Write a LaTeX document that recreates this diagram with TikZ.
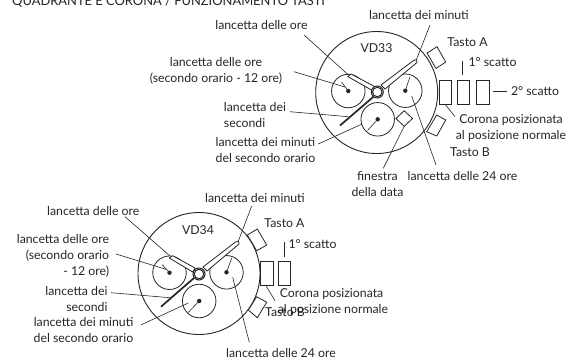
\documentclass[tikz,border=0pt]{standalone}
\usepackage{fontspec}
\setmainfont{Lato}
\definecolor{ink}{HTML}{262626}
\tikzset{
  lbl/.style={inner sep=0pt,text=ink,font=\fontsize{12.3}{16}\selectfont,anchor=center},
  lblL/.style={lbl,align=left},
  lblR/.style={lbl,align=right},
  lblC/.style={lbl,align=center},
  dial/.style={draw=ink,line width=0.9pt,fill=white,circle,inner sep=0pt,minimum size=122pt},
  subdial/.style={draw=ink,line width=0.8pt,fill=white,circle,inner sep=0pt,minimum size=33.5pt},
  hub/.style={draw=ink,line width=1pt,fill=white,circle,inner sep=0pt,minimum size=9.5pt},
  dotc/.style={fill=ink,circle,inner sep=0pt,minimum size=4.4pt},
  lead/.style={draw=ink,line width=0.6pt},
  part/.style={draw=ink,line width=0.8pt,fill=white},
  hand/.style={draw=ink,line width=0.8pt,fill=white,line join=round},
  sechand/.style={draw=ink,line width=1.7pt}
}
\begin{document}
\begin{tikzpicture}[x=1pt,y=-1pt]
\useasboundingbox (0,0) rectangle (569,360);
\fill[white] (0,0) rectangle (569,360);

\node[lbl,anchor=west,font=\fontsize{12.9}{16}\selectfont] (title) at (12,1.5) {QUADRANTE E CORONA / FUNZIONAMENTO TASTI};

% ---------- VD33 ----------
\draw[part] (427,53) -- (437,46.7) -- (445.7,62) -- (436,68.5) -- cycle;
\draw[part] (426.7,131.7) -- (436.7,115) -- (445.7,120) -- (436.7,136) -- cycle;
\node[dial] (dA) at (376.7,92.5) {};
\node[lbl] (vdA) at (376.5,48) {VD33};
\node[subdial] (sA1) at (348.3,91) {};
\node[subdial] (sA2) at (405.3,90.7) {};
\node[subdial] (sA3) at (377.7,119.3) {};
\node[dotc] (pA1) at (348.3,91) {};
\node[dotc] (pA2) at (405.3,90.7) {};
\node[dotc] (pA3) at (377.7,119.3) {};
\draw[lead] (pA1.center) -- (341.5,82);
\draw[lead] (pA2.center) -- (410,76.7);
\draw[lead] (pA3.center) -- (367.5,130.5);
\draw[part] (404.2,118.5) ++(0,-7.8) -- ++(8.3,7.8) -- ++(-8.3,7.8) -- ++(-8.3,-7.8) -- cycle;
\coordinate (wA) at (404.2,126.3);
\coordinate (tipHA) at (348.5,75);
\coordinate (tipMA) at (416,60.7);
\draw[sechand] (340,125.5) -- (373.5,96.7);
\draw[hand] (347.7,76.5) -- (351,74) -- (374.5,86.5) -- (372.3,90.5) -- cycle;
\draw[hand] (413.5,60.5) -- (416.5,59.5) -- (417,62.5) -- (385,89) -- (381,85) -- cycle;
\node[hub,minimum size=12pt] (hA0) at (377.3,92) {};
\node[hub] (hA) at (377.3,92) {};
\foreach \x in {439.3,457,476.7} \draw[part] (\x,80) rectangle ++(12.2,24);
\coordinate (cA) at (445,104);
\coordinate (tA) at (462.7,60.7);
\coordinate (tA2) at (462.7,75);
\coordinate (sA) at (493,91);
\coordinate (sA') at (506.5,91);

\node[lbl] (a1) at (261.5,25) {lancetta delle ore};
\node[lblC] (a2) at (216,71) {lancetta delle ore\\(secondo orario - 12 ore)};
\node[lblL] (a3) at (255,115) {lancetta dei\\secondi};
\node[lblL] (a4) at (265.5,150) {lancetta dei minuti\\del secondo orario};
\node[lbl] (a5) at (419,15) {lancetta dei minuti};
\node[lbl] (a6) at (467.5,42) {Tasto A};
\node[lbl] (a7) at (492.5,62) {1° scatto};
\node[lbl] (a8) at (535,91) {2° scatto};
\node[lblL] (a9) at (511,128) {\hspace*{3.5pt}Corona posizionata\\al posizione normale};
\node[lbl] (a10) at (470,152) {Tasto B};
\node[lblC] (a11) at (377.5,184) {finestra\\della data};
\node[lbl] (a12) at (462.5,176) {lancetta delle 24 ore};

\coordinate (a1s) at (304,35);
\coordinate (a2s) at (294,71.7);
\coordinate (a2e) at (345,87);
\coordinate (a3s) at (290,111.7);
\coordinate (a3e) at (348.3,116.7);
\coordinate (a4s) at (318.3,144);
\coordinate (a4e) at (362,124);
\coordinate (a5s) at (430,25);
\coordinate (a9s) at (455,116.7);
\coordinate (a11s) at (383.3,168.3);
\coordinate (a12s) at (436,165);
\coordinate (a12e) at (411.7,96);
\draw[lead] (a1s) -- (tipHA);
\draw[lead] (a2s) -- (a2e);
\draw[lead] (a3s) -- (a3e);
\draw[lead] (a4s) -- (a4e);
\draw[lead] (a5s) -- (tipMA);
\draw[lead] (a9s) -- (cA);
\draw[lead] (a11s) -- (wA);
\draw[lead] (a12s) -- (a12e);
\draw[lead] (tA) -- (tA2);
\draw[lead] (sA) -- (sA');

% ---------- VD34 ----------
\draw[part] (247.3,235) -- (257.3,229) -- (266.7,245) -- (256.7,250.7) -- cycle;
\draw[part] (248.3,310) -- (256.7,296.7) -- (266.7,302.3) -- (257.3,317.7) -- cycle;
\node[dial] (dB) at (199,273.5) {};
\node[lbl] (vdB) at (198,230) {VD34};
\node[subdial] (sB1) at (169.5,272.7) {};
\node[subdial] (sB2) at (226.5,272.3) {};
\node[subdial] (sB3) at (199.2,301) {};
\node[dotc] (pB1) at (169.5,272.7) {};
\node[dotc] (pB2) at (226.5,272.3) {};
\node[dotc] (pB3) at (199.2,301) {};
\draw[lead] (pB1.center) -- (162,264.5);
\draw[lead] (pB2.center) -- (231.7,258.3);
\draw[lead] (pB3.center) -- (188.3,312.3);
\coordinate (tipHB) at (170,256);
\coordinate (tipMB) at (238,242);
\draw[sechand] (161,306.7) -- (194,278);
\draw[hand] (169.3,258) -- (172.7,255.7) -- (195,268) -- (192.7,272) -- cycle;
\draw[hand] (235.5,242) -- (238.5,241) -- (239,244) -- (207,271) -- (203,267) -- cycle;
\node[hub,minimum size=12pt] (hB0) at (199,274) {};
\node[hub] (hB) at (199,274) {};
\foreach \x in {260.7,278.3} \draw[part] (\x,261.7) rectangle ++(12.2,24);
\coordinate (cB) at (266,285.7);
\coordinate (tB) at (284,241.7);
\coordinate (tB2) at (284,257);

\node[lbl] (b1) at (93.3,210.7) {lancetta delle ore};
\node[lblR] (b2) at (63,256) {lancetta delle ore\\(secondo orario\\- 12 ore)};
\node[lblR] (b3) at (76.5,299) {lancetta dei\\secondi};
\node[lblR] (b4) at (83.5,330.5) {lancetta dei minuti\\del secondo orario};
\node[lbl] (b5) at (255,197.7) {lancetta dei minuti};
\node[lbl] (b6) at (284.5,223) {Tasto A};
\node[lbl] (b7) at (312.5,244) {1° scatto};
\node[lblL] (b8) at (333,302.5) {\hspace*{2pt}Corona posizionata\\al posizione normale};
\node[lbl] (b9) at (285,312) {Tasto B};
\node[lbl] (b10) at (281,353.3) {lancetta delle 24 ore};

\coordinate (b1s) at (125,216.7);
\coordinate (b2s) at (116,254);
\coordinate (b2e) at (166,269.3);
\coordinate (b3s) at (111,292.7);
\coordinate (b3e) at (170,297.7);
\coordinate (b4s) at (140.7,325);
\coordinate (b4e) at (188.3,303);
\coordinate (b5s) at (251.7,206);
\coordinate (b8s) at (275,300.7);
\coordinate (b10s) at (249.3,342.3);
\coordinate (b10e) at (232.7,277.3);
\draw[lead] (b1s) -- (tipHB);
\draw[lead] (b2s) -- (b2e);
\draw[lead] (b3s) -- (b3e);
\draw[lead] (b4s) -- (b4e);
\draw[lead] (b5s) -- (tipMB);
\draw[lead] (b8s) -- (cB);
\draw[lead] (b10s) -- (b10e);
\draw[lead] (tB) -- (tB2);
\end{tikzpicture}
\end{document}
